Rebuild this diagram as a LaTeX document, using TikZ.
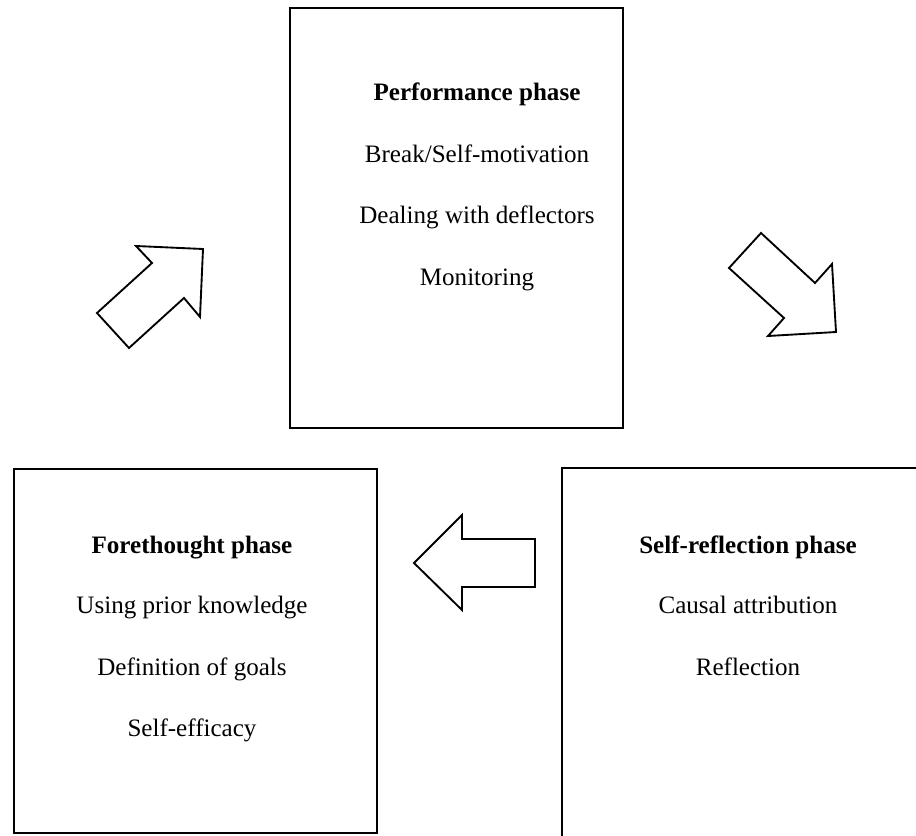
\documentclass[tikz,border=0pt]{standalone}
\usepackage{fontspec}
\setmainfont{Liberation Serif}
\usetikzlibrary{fit}
\tikzset{
  phasebox/.style={draw, line width=1.5pt, inner sep=0pt, fill=none},
  heading/.style={anchor=base, inner sep=0pt, font=\fontsize{18.8}{22}\selectfont\bfseries},
  entry/.style={anchor=base, inner sep=0pt, font=\fontsize{18.8}{22}\selectfont},
  blockarrow/.style={draw, line width=1.4pt, line join=miter, fill=white}
}
\begin{document}
\begin{tikzpicture}[x=0.75pt, y=-0.75pt]
\clip (0,0) rectangle (916,835);
\fill[white] (0,0) rectangle (916,835);

% the three phase boxes
\node[phasebox, fit={(290,8) (623,428)}] (perf) {};
\node[phasebox, fit={(14,469) (377,833)}] (fore) {};
\node[phasebox, fit={(562,468) (950,880)}] (refl) {};

% performance phase
\node[heading] (perfT) at (477,100) {Performance phase};
\node[entry] (perf1) at (477,162) {Break/Self-motivation};
\node[entry] (perf2) at (477,223) {Dealing with deflectors};
\node[entry] (perf3) at (477,285) {Monitoring};

% forethought phase
\node[heading] (foreT) at (192,553) {Forethought phase};
\node[entry] (fore1) at (192,613) {Using prior knowledge};
\node[entry] (fore2) at (192,675) {Definition of goals};
\node[entry] (fore3) at (192,736) {Self-efficacy};

% self-reflection phase
\node[heading] (reflT) at (748,553) {Self-reflection phase};
\node[entry] (refl1) at (748,613) {Causal attribution};
\node[entry] (refl2) at (748,675) {Reflection};

% block arrows of the cycle
% forethought -> performance
\draw[blockarrow] (129,348) -- (97,313) -- (152,263) -- (136,246)
  -- (203,249) -- (200,317) -- (184,298) -- cycle;
% performance -> self-reflection
\draw[blockarrow] (761,233) -- (729,268) -- (784,318) -- (768,336)
  -- (836,332) -- (832,264) -- (815,283) -- cycle;
% self-reflection -> forethought
\draw[blockarrow] (414,563) -- (462,515) -- (462,539) -- (535,539)
  -- (535,587) -- (462,587) -- (462,610) -- cycle;
\end{tikzpicture}
\end{document}
